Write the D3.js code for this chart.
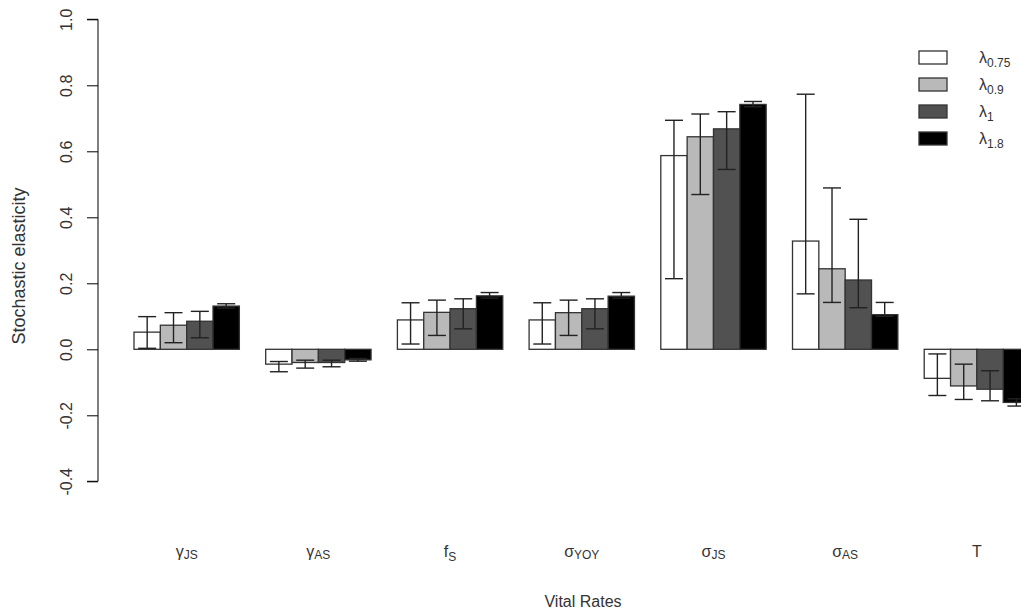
<!DOCTYPE html>
<html>
<head>
<meta charset="utf-8">
<script src="https://d3js.org/d3.v7.min.js"></script>
<style>
  body { margin: 0; background: #fff; }
  svg text { font-family: "Liberation Sans", Arial, sans-serif; fill: #333; }
</style>
</head>
<body>
<script>
// vital rates (main letter + subscript)
const categories = [
  ["γ", "JS"], ["γ", "AS"], ["f", "S"], ["σ", "YOY"], ["σ", "JS"], ["σ", "AS"], ["T", ""]
];
const seriesNames = [["λ", "0.75"], ["λ", "0.9"], ["λ", "1"], ["λ", "1.8"]];
const seriesColors = ["#ffffff", "#b9b9b9", "#515151", "#000000"];

// elasticity per series, one value per vital rate
const lam075 = [0.052, -0.045, 0.089, 0.089, 0.587, 0.328, -0.088];
const lam09  = [0.073, -0.040, 0.112, 0.111, 0.644, 0.244, -0.111];
const lam1   = [0.085, -0.040, 0.123, 0.123, 0.668, 0.210, -0.121];
const lam18  = [0.131, -0.032, 0.162, 0.161, 0.742, 0.105, -0.161];

// error bar limits
const lo075 = [0.003, -0.068, 0.016, 0.016, 0.214, 0.168, -0.140];
const hi075 = [0.099, -0.037, 0.141, 0.141, 0.694, 0.773, -0.014];
const lo09  = [0.020, -0.057, 0.042, 0.042, 0.469, 0.142, -0.152];
const hi09  = [0.111, -0.033, 0.149, 0.149, 0.713, 0.489, -0.045];
const lo1   = [0.035, -0.053, 0.062, 0.062, 0.545, 0.126, -0.156];
const hi1   = [0.115, -0.033, 0.153, 0.153, 0.720, 0.394, -0.065];
const lo18  = [0.125, -0.036, 0.155, 0.155, 0.735, 0.100, -0.172];
const hi18  = [0.138, -0.028, 0.172, 0.172, 0.751, 0.142, -0.150];

const yTicks = [-0.4, -0.2, 0.0, 0.2, 0.4, 0.6, 0.8, 1.0];
const yTickLabels = ["-0.4", "-0.2", "0.0", "0.2", "0.4", "0.6", "0.8", "1.0"];

const values = [lam075, lam09, lam1, lam18];
const lows = [lo075, lo09, lo1, lo18];
const highs = [hi075, hi09, hi1, hi18];

const w = 1021, h = 615;
const svg = d3.select("body").append("svg").attr("width", w).attr("height", h);

const y = d3.scaleLinear().domain([0, 1]).range([349.3, 19.3]);

// barplot-like units: each bar width 1, one bar-width gap before each group
const unit = 26.34;
const x = d3.scaleLinear().domain([1, 2]).range([134, 134 + unit]);

const bars = [];
categories.forEach((c, g) => {
  values.forEach((s, k) => {
    const u = 1 + 5 * g + k;
    bars.push({g, k, u, v: s[g], lo: lows[k][g], hi: highs[k][g]});
  });
});

svg.append("g").selectAll("rect")
  .data(bars).enter().append("rect")
  .attr("x", d => x(d.u))
  .attr("width", x(2) - x(1))
  .attr("y", d => y(Math.max(0, d.v)))
  .attr("height", d => Math.abs(y(d.v) - y(0)))
  .attr("fill", d => seriesColors[d.k])
  .attr("stroke", "#333")
  .attr("stroke-width", 1.3);

const eb = svg.append("g").attr("stroke", "#222").attr("stroke-width", 1.4);
bars.forEach(d => {
  const cx = x(d.u + 0.5);
  eb.append("line").attr("x1", cx).attr("x2", cx).attr("y1", y(d.lo)).attr("y2", y(d.hi));
  [d.lo, d.hi].forEach(v => {
    eb.append("line").attr("x1", cx - 9).attr("x2", cx + 9).attr("y1", y(v)).attr("y2", y(v));
  });
});

// y axis
const yAxis = d3.axisLeft(y).tickValues(yTicks)
  .tickFormat((d, i) => yTickLabels[i]).tickSize(11);
const ag = svg.append("g").attr("transform", "translate(98,0)").call(yAxis);
ag.select(".domain").attr("stroke", "#000").attr("d", `M-11,${y(-0.4)}H0V${y(1)}H-11`);
ag.selectAll(".tick line").attr("stroke", "#000");
ag.selectAll(".tick text")
  .attr("font-size", 16)
  .attr("font-family", "Liberation Sans, Arial, sans-serif")
  .attr("fill", "#333")
  .attr("x", 0).attr("y", 0).attr("dy", 0)
  .attr("text-anchor", "middle")
  .attr("transform", "translate(-26,0) rotate(-90)");

svg.append("text")
  .attr("transform", `translate(25,266) rotate(-90)`)
  .attr("text-anchor", "middle")
  .attr("font-size", 18)
  .text("Stochastic elasticity");

// category labels
categories.forEach((c, g) => {
  const t = svg.append("text")
    .attr("x", x(1 + 5 * g + 2))
    .attr("y", 557)
    .attr("text-anchor", "middle")
    .attr("font-size", 16);
  t.append("tspan").text(c[0]);
  if (c[1]) t.append("tspan").attr("font-size", 12).attr("dy", c[0] === "f" ? 4 : 2).text(c[1]);
});

svg.append("text")
  .attr("x", 583).attr("y", 607)
  .attr("text-anchor", "middle")
  .attr("font-size", 16)
  .text("Vital Rates");

// legend
const lg = svg.append("g").attr("transform", "translate(919,51)");
seriesNames.forEach((s, k) => {
  lg.append("rect")
    .attr("x", 0).attr("y", k * 27)
    .attr("width", 28).attr("height", 13)
    .attr("fill", seriesColors[k])
    .attr("stroke", "#333").attr("stroke-width", 1.3);
  const t = lg.append("text").attr("x", 60).attr("y", k * 27 + 12).attr("font-size", 16);
  t.append("tspan").text(s[0]);
  t.append("tspan").attr("font-size", 12).attr("dy", 4).text(s[1]);
});
</script>
</body>
</html>
